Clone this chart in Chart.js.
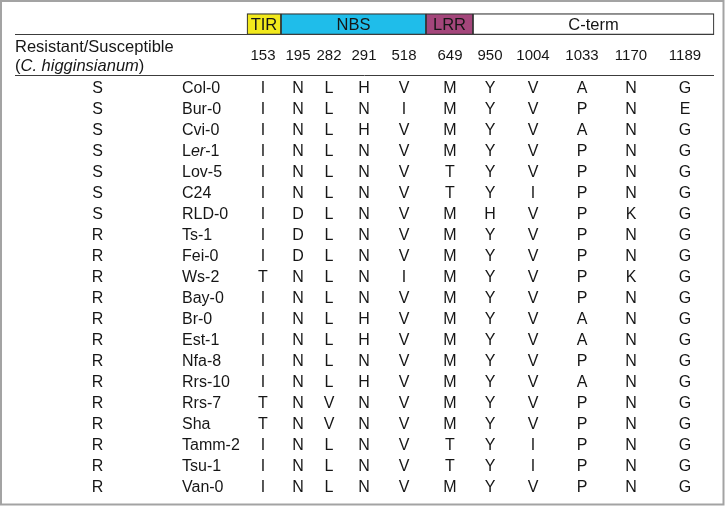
<!DOCTYPE html>
<html lang="en">
<head>
  <meta charset="UTF-8" />
  <title>Resistance polymorphisms</title>
  <script src="https://cdn.jsdelivr.net/npm/chart.js"></script>
  <style>
    body {
      margin: 0;
      background: #fff;
    }
    #wrap {
      width: 726px;
      height: 507px;
    }
  </style>
</head>
<body>
  <div id="wrap"><canvas id="tbl" width="726" height="507"></canvas></div>

  <script>
    // data
    const DOMAINS = ['TIR', 'NBS', 'LRR', 'C-term'];
    const DOMAIN_START = [247, 281, 426, 473];
    const DOMAIN_END = [281, 426, 473, 714];
    const POSITIONS = ['153', '195', '282', '291', '518', '649', '950', '1004', '1033', '1170', '1189'];
    const PHENOTYPE = ['S', 'S', 'S', 'S', 'S', 'S', 'S', 'R', 'R', 'R', 'R', 'R', 'R', 'R', 'R', 'R', 'R', 'R', 'R', 'R'];
    const ACCESSIONS = ['Col-0', 'Bur-0', 'Cvi-0', 'L*er*-1', 'Lov-5', 'C24', 'RLD-0', 'Ts-1', 'Fei-0', 'Ws-2',
      'Bay-0', 'Br-0', 'Est-1', 'Nfa-8', 'Rrs-10', 'Rrs-7', 'Sha', 'Tamm-2', 'Tsu-1', 'Van-0'];
    const RESIDUES = [
      'INLHVMYVANG', 'INLNIMYVPNE', 'INLHVMYVANG', 'INLNVMYVPNG', 'INLNVTYVPNG',
      'INLNVTYIPNG', 'IDLNVMHVPKG', 'IDLNVMYVPNG', 'IDLNVMYVPNG', 'TNLNIMYVPKG',
      'INLNVMYVPNG', 'INLHVMYVANG', 'INLHVMYVANG', 'INLNVMYVPNG', 'INLHVMYVANG',
      'TNVNVMYVPNG', 'TNVNVMYVPNG', 'INLNVTYIPNG', 'INLNVTYIPNG', 'INLNVMYVPNG'
    ];

    // layout (x in canvas units, y in row units)
    const COL_X = [263, 298, 329, 364, 404, 450, 490, 533, 582, 631, 685];
    const PHENO_X = 97.5;
    const ACC_X = 182;
    const LINE_X0 = 15, LINE_X1 = 714;
    const DOMAIN_ROW = -3;
    const TEXT_DY = 0.08;
    const FONT = 'Arial, "Liberation Sans", sans-serif';
    const DOMAIN_COLORS = ['#f2e91c', '#1fbdea', '#a4467b', '#ffffff'];

    // draws text where *...* parts are italic
    function drawRich(ctx, str, x, y, size, align) {
      const parts = str.split('*');
      let total = 0;
      parts.forEach((p, i) => {
        ctx.font = (i % 2 ? 'italic ' : '') + size + 'px ' + FONT;
        total += ctx.measureText(p).width;
      });
      let cx = align === 'center' ? x - total / 2 : x;
      ctx.textAlign = 'left';
      parts.forEach((p, i) => {
        ctx.font = (i % 2 ? 'italic ' : '') + size + 'px ' + FONT;
        ctx.fillText(p, cx, y);
        cx += ctx.measureText(p).width;
      });
    }

    const tablePlugin = {
      id: 'tablePlugin',
      afterDatasetsDraw(chart) {
        const ctx = chart.ctx;
        const sx = chart.scales.x;
        const sy = chart.scales.y;
        const py = v => sy.getPixelForValue(v + TEXT_DY);
        ctx.save();
        ctx.fillStyle = '#161616';
        ctx.textBaseline = 'middle';

        // domain labels
        DOMAINS.forEach((d, i) => {
          const x = sx.getPixelForValue((DOMAIN_START[i] + DOMAIN_END[i]) / 2);
          drawRich(ctx, d, x, py(DOMAIN_ROW), 16.5, 'center');
        });

        // rules
        ctx.strokeStyle = '#3c3c3c';
        ctx.lineWidth = 1;
        [-2.52, -0.57].forEach(v => {
          const y = Math.round(sy.getPixelForValue(v)) + 0.5;
          ctx.beginPath();
          ctx.moveTo(sx.getPixelForValue(LINE_X0), y);
          ctx.lineTo(sx.getPixelForValue(LINE_X1), y);
          ctx.stroke();
        });

        // header
        drawRich(ctx, 'Resistant/Susceptible', sx.getPixelForValue(LINE_X0), py(-1.95), 16.5, 'left');
        drawRich(ctx, '(*C. higginsianum*)', sx.getPixelForValue(LINE_X0), py(-1.08), 16.5, 'left');
        POSITIONS.forEach((p, j) => {
          drawRich(ctx, p, sx.getPixelForValue(COL_X[j]), py(-1.55), 15, 'center');
        });

        // body rows
        PHENOTYPE.forEach((ph, i) => {
          const y = py(i);
          drawRich(ctx, ph, sx.getPixelForValue(PHENO_X), y, 16, 'center');
          drawRich(ctx, ACCESSIONS[i], sx.getPixelForValue(ACC_X), y, 16, 'left');
          RESIDUES[i].split('').forEach((aa, j) => {
            drawRich(ctx, aa, sx.getPixelForValue(COL_X[j]), y, 16, 'center');
          });
        });

        // outer frame
        ctx.strokeStyle = '#a3a3a3';
        ctx.lineWidth = 2;
        ctx.strokeRect(1, 1, 722.5, 503.5);
        ctx.restore();
      }
    };

    new Chart(document.getElementById('tbl').getContext('2d'), {
      type: 'bar',
      data: {
        datasets: [{
          data: DOMAINS.map((d, i) => ({ x: [DOMAIN_START[i], DOMAIN_END[i]], y: DOMAIN_ROW })),
          backgroundColor: DOMAIN_COLORS,
          borderColor: '#333',
          borderWidth: 1.2,
          borderSkipped: false,
          barThickness: 21
        }]
      },
      options: {
        indexAxis: 'y',
        responsive: false,
        animation: false,
        layout: { padding: 0 },
        plugins: {
          legend: { display: false },
          tooltip: { enabled: false }
        },
        scales: {
          x: { type: 'linear', min: 0, max: 726, offset: false, display: false },
          y: { type: 'linear', min: -4.15, max: 20, offset: false, reverse: true, display: false }
        }
      },
      plugins: [tablePlugin]
    });
  </script>
</body>
</html>
